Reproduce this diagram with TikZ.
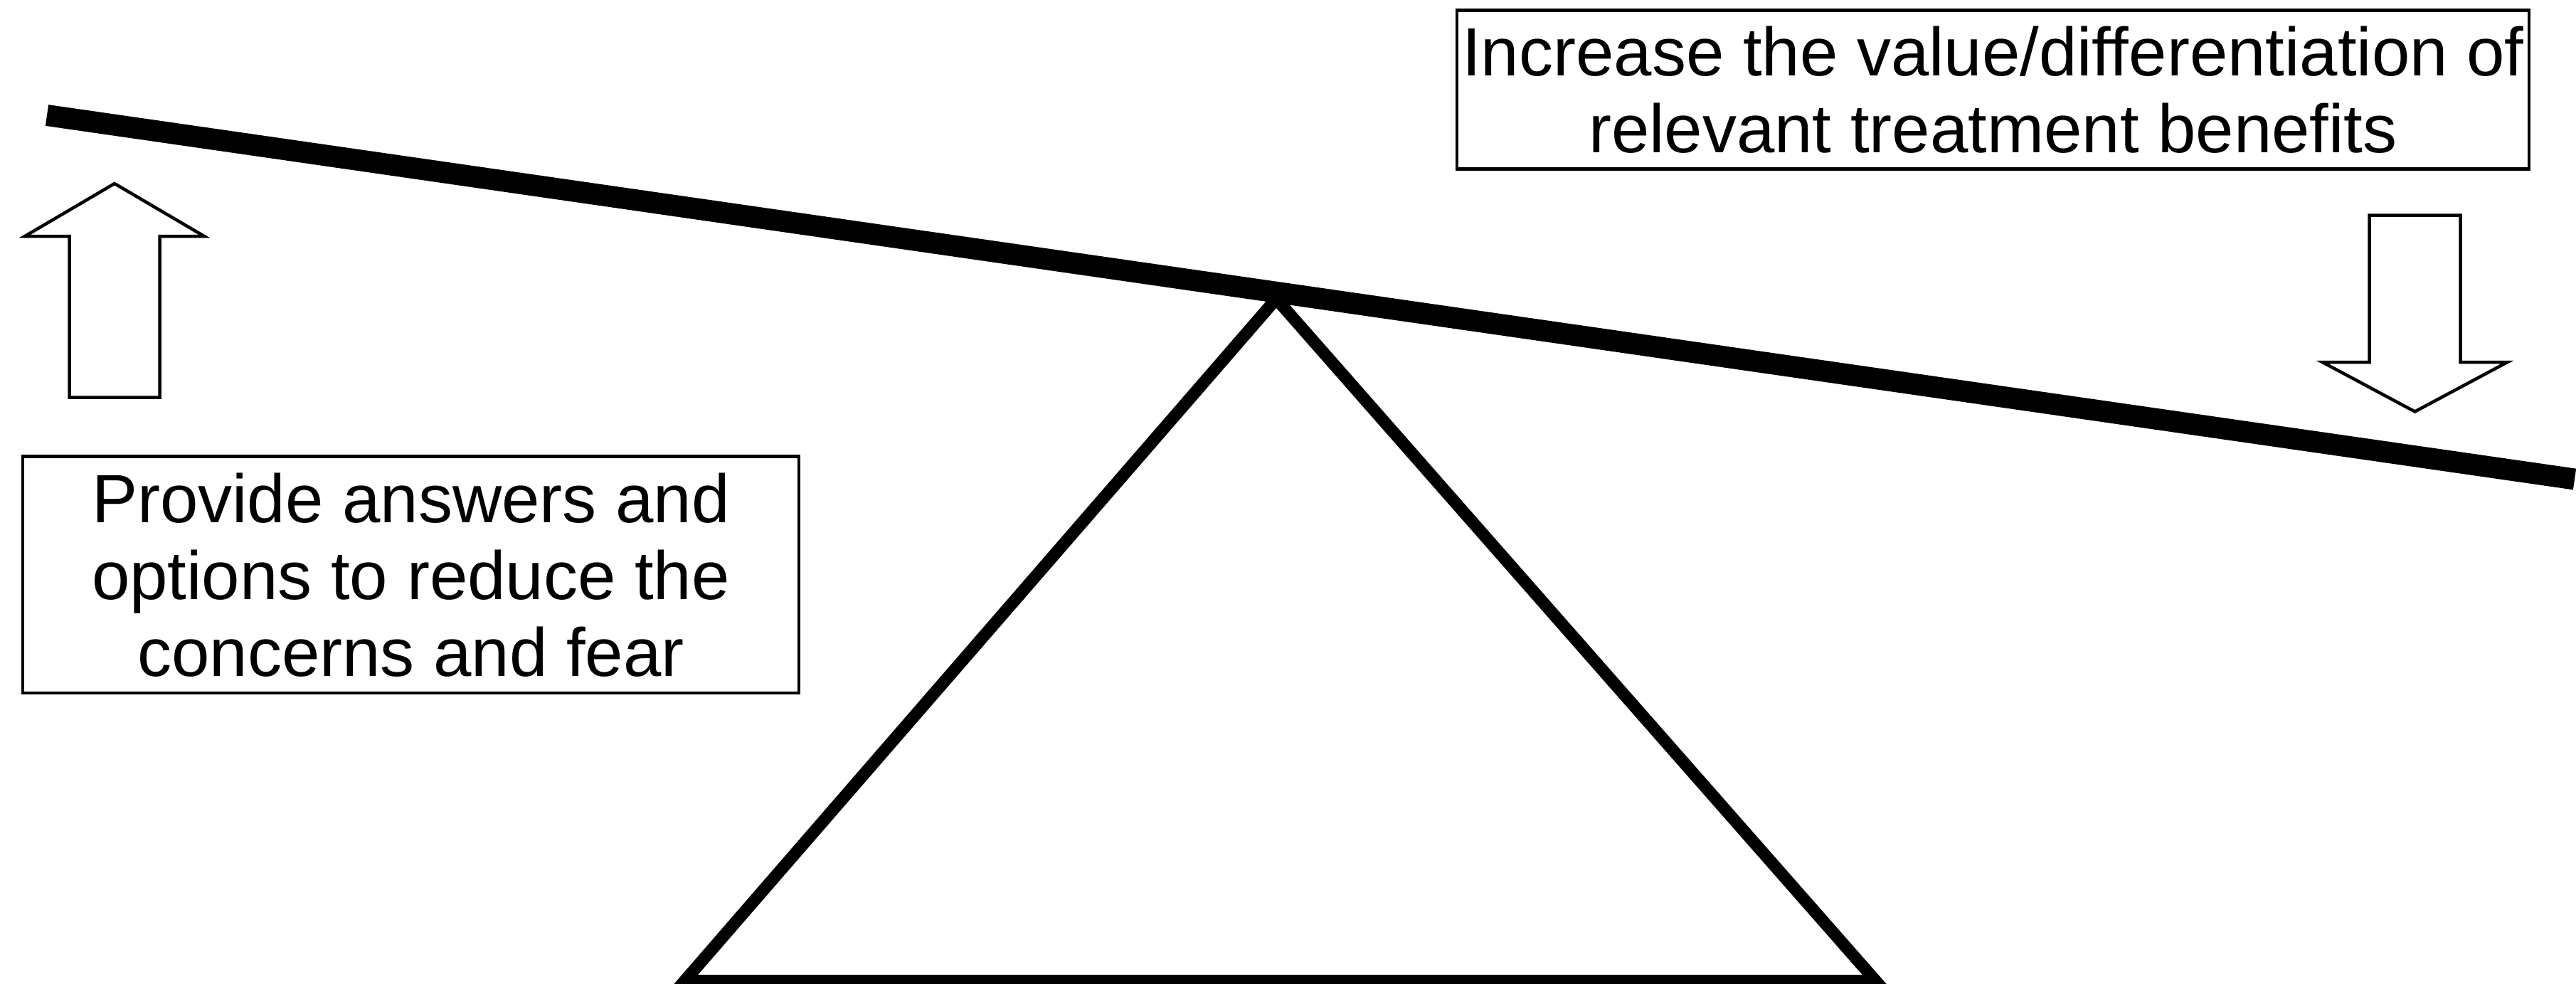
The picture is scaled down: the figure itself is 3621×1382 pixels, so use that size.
\documentclass[tikz,border=0pt]{standalone}
\usepackage{fontspec}
\setmainfont{Liberation Sans}
\begin{document}
\begin{tikzpicture}[x=0.25pt,y=-0.25pt,
  thinline/.style={line width=1.125pt, line join=miter},
  labelbox/.style={draw, thinline, inner sep=0pt, align=center,
    font=\fontsize{24}{27}\selectfont},
  fatarrow/.style={draw, thinline, fill=white}]
\useasboundingbox (0,0) rectangle (3621,1382);
% fulcrum
\coordinate (apex) at (1794,420);
\coordinate (bl) at (962.5,1378.5);
\coordinate (br) at (2636.5,1378.5);
\draw[line width=4.25pt, line join=miter, fill=white] (apex) -- (bl) -- (br) -- cycle;
% beam
\coordinate (beamL) at (66,162);
\coordinate (beamR) at (3619,673.5);
\draw[line width=7.5pt, line cap=butt] (beamL) -- (beamR);
% up arrow
\draw[fatarrow] (97.5,558.5) -- (97.5,332) -- (35,332) -- (161,258) -- (287,332) -- (224.5,332) -- (224.5,558.5) -- cycle;
% down arrow
\draw[fatarrow] (3330.5,302.5) -- (3458.5,302.5) -- (3458.5,509) -- (3524.5,509) -- (3394.5,578.5) -- (3264.5,509) -- (3330.5,509) -- cycle;
% text boxes
\node[labelbox, minimum width=376.75pt, minimum height=55.8pt] (benefits) at (2801.5,125.9)
  {Increase the value/differentiation of\\relevant treatment benefits};
\node[labelbox, minimum width=272.75pt, minimum height=83.125pt] (concerns) at (577.5,807.75)
  {Provide answers and\\options to reduce the\\concerns and fear};
\end{tikzpicture}
\end{document}
